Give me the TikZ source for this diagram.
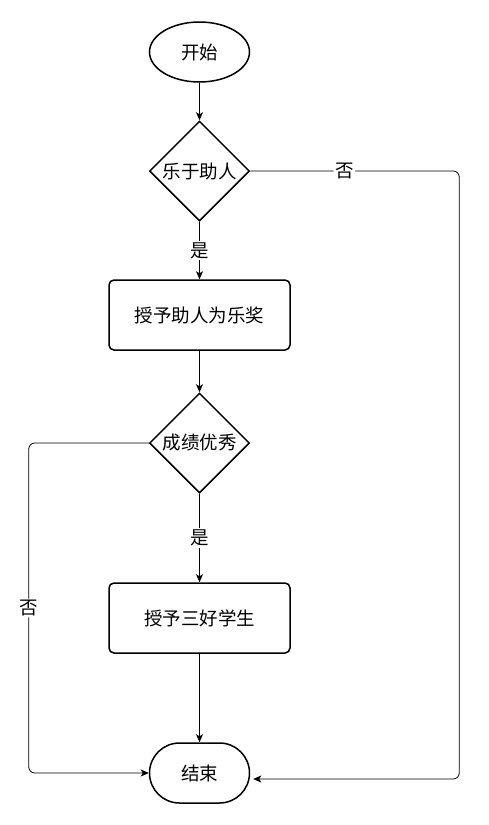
\documentclass[tikz,border=0pt]{standalone}
\usepackage{fontspec}
\newfontfamily\cjk{Noto Sans CJK SC}
\usetikzlibrary{shapes.geometric,positioning,arrows.meta}

\begin{document}
\begin{tikzpicture}[x=1pt,y=1pt,>={Stealth[length=8pt,width=7pt,inset=2pt]},
startstop/.style={
	% The shape:
	ellipse,
	% The size:
	minimum width=100pt,minimum height=60pt,inner sep=0pt,
	% The border:
	line width=1.5pt,draw=black},
finish/.style={
	% The shape:
	rectangle,rounded corners=30pt,
	minimum width=100pt,minimum height=60pt,inner sep=0pt,
	line width=1.5pt,draw=black},
decision/.style={
	% The shape:
	diamond,aspect=1,
	% The size:
	minimum width=100pt,minimum height=100pt,inner sep=0pt,
	% The border:
	line width=1.5pt,draw=black},
award/.style={
	% The shape:
	rectangle,rounded corners=5pt,
	minimum width=181pt,minimum height=70pt,
	% The rest
	line width=1.5pt,draw=black},
lbl/.style={fill=white,inner sep=1.5pt},
every node/.style={font=\cjk\fontsize{18.5}{22}\selectfont},
link/.style={->,line width=0.8pt}]

\useasboundingbox (0,0) rectangle (488,-825);

%Begin main column
\node (start) [startstop] at (199.5,-52) {开始};
\node (helpful) [decision,below=37.5pt of start] {乐于助人};
\node (prize) [award,below=57.5pt of helpful] {授予助人为乐奖};
\node (grades) [decision,below=41.5pt of prize] {成绩优秀};
\node (merit) [award,below=88.5pt of grades] {授予三好学生};
\node (end) [finish,below=88.5pt of merit] {结束};

\draw[link] (start) -- (helpful);
\draw[link] (helpful) -- node[lbl] {是} (prize);
\draw[link] (prize) -- (grades);
\draw[link] (grades) -- node[lbl] {是} (merit);
\draw[link] (merit) -- (end);

% Now come the "no" branches...
\draw[link,rounded corners=6pt] (helpful.east) -- node[pos=0.45,lbl] {否} ++(209,0)
	|- ([xshift=3pt,yshift=-6pt]end.east);
\draw[link,rounded corners=6pt] (grades.west) -- ++(-120,0)
	|- node[pos=0.25,lbl] {否} (end.west);

\end{tikzpicture}
\end{document}
